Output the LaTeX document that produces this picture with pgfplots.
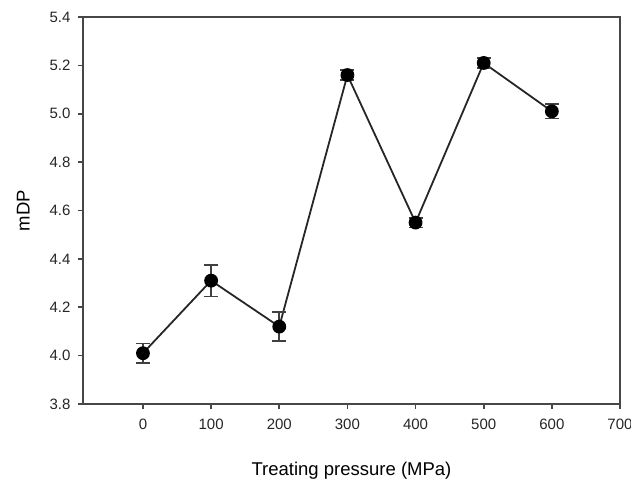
\documentclass[border=0pt]{standalone}
\usepackage{pgfplots}
\pgfplotsset{compat=1.18}
\usepackage{fontspec}
\setmainfont{Liberation Sans}
\begin{document}
\begin{tikzpicture}
\begin{axis}[
  scale only axis,
  width=537pt, height=387pt,
  xmin=-88, xmax=700, ymin=3.8, ymax=5.4,
  xtick={0,100,...,700},
  ytick={3.8,4.0,...,5.4},
  yticklabel style={/pgf/number format/fixed, /pgf/number format/fixed zerofill, /pgf/number format/precision=1},
  /pgf/number format/assume math mode=true,
  tick pos=left,
  tick align=outside,
  major tick length=5pt,
  axis line style={draw=black!72, line width=2pt},
  every tick/.style={black!72, line width=1.6pt},
  tick label style={font=\fontsize{15}{17}\selectfont, text=black!85},
  xticklabel style={yshift=-6pt},
  yticklabel style={xshift=-4pt},
  ylabel style={yshift=13pt},
  label style={font=\fontsize{18.5}{20}\selectfont},
  xlabel={Treating pressure (MPa)},
  ylabel={mDP},
  xlabel style={yshift=-26pt},
]
\addplot[black!85, line width=1.8pt, mark=*, mark size=6pt,
  mark options={fill=black, draw=black},
  error bars/.cd, y dir=both, y explicit,
  error bar style={line width=1.6pt, black!75},
  error mark options={rotate=90, mark size=7pt, line width=1.6pt, black!75}]
  table[x=x, y=y, y error=e] {
  x y e
  0 4.01 0.04
  100 4.31 0.065
  200 4.12 0.06
  300 5.16 0.02
  400 4.55 0.02
  500 5.21 0.02
  600 5.01 0.03
};
\end{axis}
\pgfresetboundingbox
\path (current axis.south west) ++(-83pt,-78pt) rectangle ([xshift=11pt,yshift=17pt]current axis.north east);
\end{tikzpicture}
\end{document}
